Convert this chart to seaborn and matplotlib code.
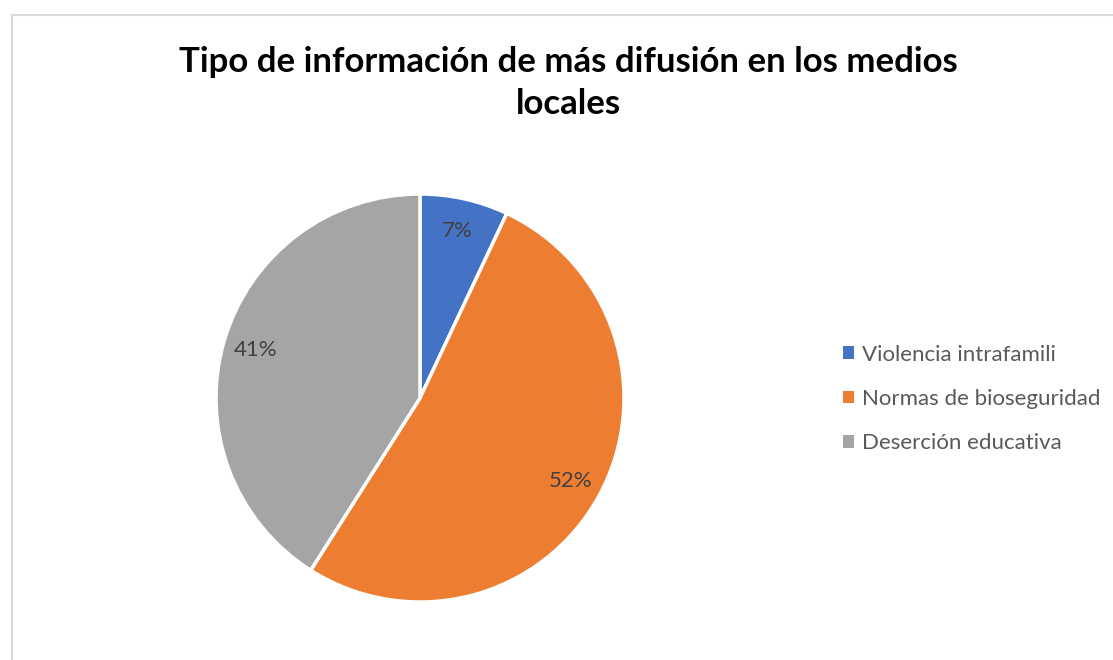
import seaborn as sns
import matplotlib.pyplot as plt
from matplotlib.patches import Patch, Rectangle

categories = ['Violencia intrafamili', 'Normas de bioseguridad', 'Deserción educativa']
shares = [7, 52, 41]
colors = ['#4472C4', '#ED7D31', '#A5A5A5']
title = 'Tipo de información de más difusión en los medios\nlocales'

sns.set_theme(style='white')
plt.rcParams['font.family'] = ['Lato', 'DejaVu Sans']

fig = plt.figure(figsize=(11.13, 6.6), dpi=100)

# chart area border (only left/top visible in the crop)
fig.patches.append(Rectangle((12 / 1113, -0.1), 1.2, 1.1 - 15 / 660, transform=fig.transFigure,
                             fill=False, edgecolor='#D9D9D9', linewidth=1.5))

ax = fig.add_axes([216 / 1113, 58 / 660, 408 / 1113, 408 / 660])
wedges, texts = ax.pie(shares, colors=colors, startangle=90, counterclock=False,
                       labels=[f'{v}%' for v in shares], labeldistance=0.84,
                       wedgeprops=dict(edgecolor='white', linewidth=2.5),
                       textprops=dict(color='#404040', fontsize=16, ha='center', va='center'))
ax.set_xlim(-1, 1)
ax.set_ylim(-1, 1)
ax.set_aspect('equal')
ax.axis('off')

fig.text(568 / 1113, 1 - 83 / 660, title, ha='center', va='center', fontsize=25,
         fontweight='bold', color='black', linespacing=1.35)

handles = [Patch(facecolor=c, edgecolor='none') for c in colors]
fig.legend(handles, categories, loc='center left', bbox_to_anchor=(843 / 1113, 1 - 399 / 660),
           frameon=False, fontsize=16, labelcolor='#595959', handlelength=0.5, handleheight=0.5,
           handletextpad=0.35, labelspacing=1.1, borderpad=0, borderaxespad=0)

fig.savefig('out.png', dpi=100)
